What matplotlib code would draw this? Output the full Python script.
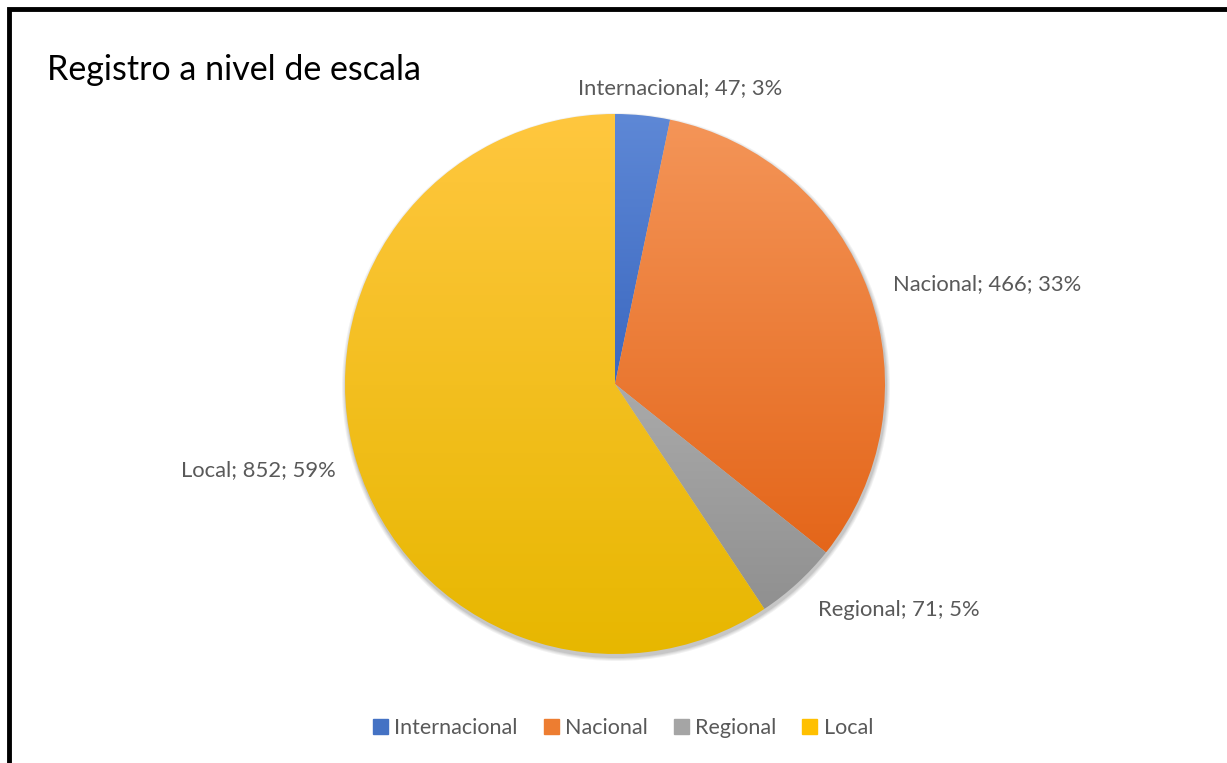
import matplotlib.pyplot as plt
import matplotlib.colors as mcolors
import numpy as np
from matplotlib.patches import Circle, Rectangle

# data
categories = ["Internacional", "Nacional", "Regional", "Local"]
values = [47, 466, 71, 852]
percents = ["3%", "33%", "5%", "59%"]
# gradient colours (top, bottom) per slice
topColors = ["#5E88D6", "#F49558", "#AAAAAA", "#FFC73F"]
bottomColors = ["#3B68C0", "#E4661A", "#909090", "#E7B700"]
legendColors = ["#4472C4", "#ED7D31", "#A5A5A5", "#FFC000"]

plt.rcParams['font.family'] = ['Lato', 'DejaVu Sans']

W, H = 1227, 763
fig = plt.figure(figsize=(W / 100, H / 100), dpi=100)
ax = fig.add_axes([0, 0, 1, 1])
ax.set_xlim(0, W)
ax.set_ylim(0, H)
ax.axis("off")

cx, cy, R = 615, H - 384, 270

# soft shadow behind the pie
for i, a in enumerate([0.05, 0.05, 0.06, 0.08]):
    ax.add_patch(Circle((cx + 1, cy - 3), R + 4 - i, color="black", alpha=a, lw=0, zorder=1))

wedges, _ = ax.pie(values, center=(cx, cy), radius=R, startangle=90, counterclock=False,
                   wedgeprops=dict(linewidth=0, alpha=0))
ax.set_xlim(0, W)
ax.set_ylim(0, H)
ax.set_aspect("auto")

# vertical gradient per slice, clipped to the wedge
for w, c1, c2 in zip(wedges, topColors, bottomColors):
    path = w.get_path().transformed(w.get_patch_transform())
    x0, y0 = path.vertices.min(axis=0)
    x1, y1 = path.vertices.max(axis=0)
    cmap = mcolors.LinearSegmentedColormap.from_list("g", [c2, c1])
    grad = np.linspace(0, 1, 256).reshape(-1, 1)
    im = ax.imshow(grad, cmap=cmap, extent=(x0, x1, y0, y1), origin="lower",
                   aspect="auto", zorder=2, interpolation="bilinear")
    im.set_clip_path(w)

# data labels
labelPos = [(680, 88, "center"), (893, 284, "left"), (818, 610, "left"), (336, 470, "right")]
for (lx, ly, ha), cat, v, p in zip(labelPos, categories, values, percents):
    ax.text(lx, H - ly, f"{cat}; {v}; {p}", ha=ha, va="center", fontsize=15.8, color="#595959")

# title
ax.text(47, H - 70, "Registro a nivel de escala", ha="left", va="center", fontsize=24.5, color="black")

# legend
handles = [Rectangle((0, 0), 1, 1, color=c) for c in legendColors]
fig.legend(handles, categories, loc="center", bbox_to_anchor=(623 / W, 1 - 728 / H), ncol=4,
           frameon=False, fontsize=15.5, handlelength=0.7, handleheight=0.7,
           handletextpad=0.3, columnspacing=1.2, labelcolor="#595959")

# chart border (left and top)
ax.plot([9, 9, W], [0, H - 9, H - 9], color="black", lw=3.5, solid_joinstyle="miter", zorder=5)

fig.savefig("out.png", dpi=100)
